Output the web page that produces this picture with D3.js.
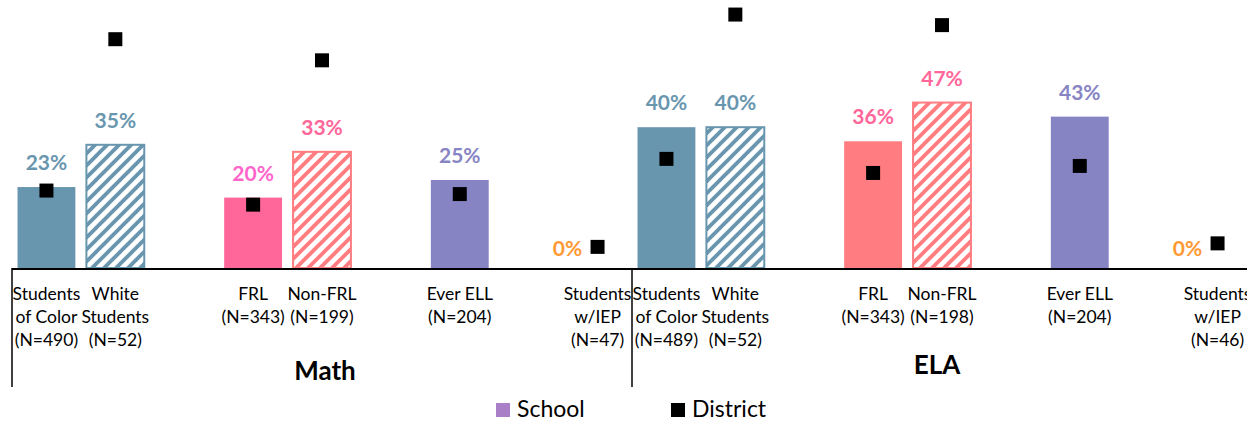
<!DOCTYPE html>
<html>
<head>
<meta charset="utf-8">
<script src="https://d3js.org/d3.v7.min.js"></script>
<style>
  body { margin: 0; background: #fff; }
  svg { display: block; font-family: Lato, "Open Sans", sans-serif; }
</style>
</head>
<body>
<script>
// subjects and sub-groups
var subjects = ["Math", "ELA"];
var groupLines = [["Students", "of Color"], ["White", "Students"], ["FRL"], ["Non-FRL"], ["Ever ELL"], ["Students", "w/IEP"]];
var groupSlot = [0, 1, 3, 4, 6, 8];   // slot of each sub-group inside a subject (9 slots)
var mathN = [490, 52, 343, 199, 204, 47];
var elaN = [489, 52, 343, 198, 204, 46];
var mathSchool = [23, 35, 20, 33, 25, 0];
var mathDistrict = [22, 65, 18, 59, 21, 6];
var elaSchool = [40, 40, 36, 47, 43, 0];
var elaDistrict = [31, 72, 27, 69, 29, 7];
var hatched = [false, true, false, true, false, false];

var mathBarColor = ["#6996af", "#6996af", "#ff6699", "#ff7c80", "#8784c4", "#ff9933"];
var elaBarColor = ["#6996af", "#6996af", "#ff7c80", "#ff7c80", "#8784c4", "#ff9933"];
var mathLabelColor = ["#6996af", "#6996af", "#ff66cc", "#ff6699", "#8784c4", "#ff9933"];
var elaLabelColor = ["#6996af", "#6996af", "#ff6699", "#ff6699", "#8784c4", "#ff9933"];

var width = 1247, height = 423;
var baseY = 268;

var rows = [];
subjects.forEach(function(s, si) {
  var n = si === 0 ? mathN : elaN;
  var sc = si === 0 ? mathSchool : elaSchool;
  var di = si === 0 ? mathDistrict : elaDistrict;
  var bc = si === 0 ? mathBarColor : elaBarColor;
  var lc = si === 0 ? mathLabelColor : elaLabelColor;
  groupLines.forEach(function(g, gi) {
    rows.push({
      subject: si, slot: si * 9 + groupSlot[gi],
      lines: g.concat(["(N=" + n[gi] + ")"]),
      school: sc[gi], district: di[gi],
      barColor: bc[gi], labelColor: lc[gi], hatched: hatched[gi], id: si + "_" + gi
    });
  });
});

var x = d3.scaleBand().domain(d3.range(18)).range([12, 1252]);
var subj = d3.scaleBand().domain(d3.range(2)).range([12, 1252]);
var y = d3.scaleLinear().domain([0, 100]).range([baseY, baseY - 352]);
var barW = x.bandwidth() * 0.84;
function cx(d) { return x(d.slot) + x.bandwidth() / 2; }

var svg = d3.select("body").append("svg")
  .attr("width", width).attr("height", height);

var defs = svg.append("defs");
rows.filter(function(d) { return d.hatched; }).forEach(function(d) {
  var p = defs.append("pattern")
    .attr("id", "hatch" + d.id)
    .attr("patternUnits", "userSpaceOnUse")
    .attr("width", 12).attr("height", 12);
  p.append("rect").attr("width", 12).attr("height", 12).attr("fill", "#fff");
  p.append("path")
    .attr("d", "M-2,14 L14,-2 M-4,4 L4,-4 M8,16 L16,8")
    .attr("stroke", d.barColor).attr("stroke-width", 3.8);
});

// bars
svg.selectAll("rect.bar")
  .data(rows.filter(function(d) { return d.school > 0; }))
  .enter().append("rect")
  .attr("class", "bar")
  .attr("x", function(d) { return cx(d) - barW / 2; })
  .attr("y", function(d) { return y(d.school); })
  .attr("width", barW)
  .attr("height", function(d) { return baseY - y(d.school); })
  .attr("fill", function(d) { return d.hatched ? "url(#hatch" + d.id + ")" : d.barColor; })
  .attr("stroke", function(d) { return d.hatched ? d.barColor : "none"; })
  .attr("stroke-width", 2);

// value labels
svg.selectAll("text.val")
  .data(rows)
  .enter().append("text")
  .attr("class", "val")
  .attr("x", function(d) { return d.school > 0 ? cx(d) : cx(d) - 30; })
  .attr("y", function(d) { return d.school > 0 ? y(d.school) - 17 : y(0) - 12; })
  .attr("text-anchor", "middle")
  .attr("font-size", "21px")
  .attr("font-weight", "bold")
  .attr("fill", function(d) { return d.labelColor; })
  .text(function(d) { return d.school + "%"; });

// district markers
svg.selectAll("rect.dist")
  .data(rows)
  .enter().append("rect")
  .attr("class", "dist")
  .attr("x", function(d) { return cx(d) - 7; })
  .attr("y", function(d) { return y(d.district) - 7; })
  .attr("width", 14).attr("height", 14)
  .attr("fill", "#000");

// axis line and group separators
svg.append("line")
  .attr("x1", 12).attr("x2", width)
  .attr("y1", baseY + 1).attr("y2", baseY + 1)
  .attr("stroke", "#000").attr("stroke-width", 2);
svg.selectAll("line.sep")
  .data(d3.range(3))
  .enter().append("line")
  .attr("class", "sep")
  .attr("x1", function(i) { return i < 2 ? subj(i) : subj(1) + subj.bandwidth(); })
  .attr("x2", function(i) { return i < 2 ? subj(i) : subj(1) + subj.bandwidth(); })
  .attr("y1", baseY).attr("y2", 387)
  .attr("stroke", "#000").attr("stroke-width", 1.5);

// category labels
var cat = svg.selectAll("text.cat")
  .data(rows)
  .enter().append("text")
  .attr("class", "cat")
  .attr("text-anchor", "middle")
  .attr("font-size", "17.5px")
  .attr("fill", "#000");
cat.each(function(d) {
  var t = d3.select(this);
  d.lines.forEach(function(l, li) {
    t.append("tspan").attr("x", cx(d)).attr("y", 300 + li * 23).text(l);
  });
});

// subject labels
svg.selectAll("text.subj")
  .data(subjects)
  .enter().append("text")
  .attr("class", "subj")
  .attr("x", function(d, i) { return subj(i) + subj.bandwidth() / 2 + (i === 0 ? 3 : -5); })
  .attr("y", function(d, i) { return i === 0 ? 380 : 374; })
  .attr("text-anchor", "middle")
  .attr("font-size", "26px")
  .attr("font-weight", "bold")
  .text(function(d) { return d; });

// legend
var legend = [{ name: "School", color: "#a97fc8", x: 496 }, { name: "District", color: "#000", x: 671 }];
var lg = svg.selectAll("g.leg").data(legend).enter().append("g").attr("class", "leg");
lg.append("rect")
  .attr("x", function(d) { return d.x; }).attr("y", 403)
  .attr("width", 14).attr("height", 14)
  .attr("fill", function(d) { return d.color; });
lg.append("text")
  .attr("x", function(d) { return d.x + 21; }).attr("y", 417)
  .attr("font-size", "23px")
  .text(function(d) { return d.name; });
</script>
</body>
</html>
